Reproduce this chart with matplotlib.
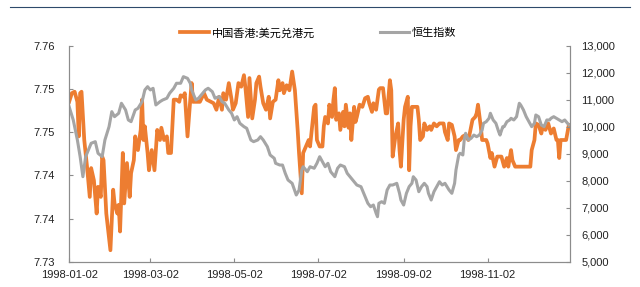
import matplotlib
matplotlib.use("Agg")
import matplotlib.pyplot as plt
from matplotlib.lines import Line2D
import pandas as pd

plt.rcParams['font.family'] = ['Liberation Sans', 'Noto Sans CJK SC', 'DejaVu Sans']

start = pd.Timestamp("1998-01-02")
end = pd.Timestamp("1999-01-01")

# days since 1998-01-02
hkd_day = [0, 2, 4, 6, 7, 8, 9, 11, 13, 15,
           16, 18, 20, 21, 23, 24, 25, 27, 30, 32,
           33, 35, 36, 37, 39, 40, 42, 44, 45, 47,
           48, 50, 52, 53, 54, 55, 57, 58, 60, 62,
           64, 66, 67, 69, 71, 72, 74, 76, 78, 80,
           81, 83, 84, 86, 88, 89, 90, 93, 95, 98,
           100, 103, 105, 107, 109, 111, 112, 114, 116, 118,
           119, 121, 123, 125, 127, 128, 130, 131, 133, 135,
           136, 138, 139, 141, 143, 145, 146, 148, 150, 152,
           153, 155, 156, 158, 160, 162, 164, 166, 167, 169,
           170, 172, 174, 175, 178, 179, 180, 182, 184, 185,
           186, 188, 189, 191, 192, 193, 194, 196, 197, 199,
           200, 201, 203, 204, 205, 207, 208, 209, 211, 213,
           215, 217, 218, 220, 221, 223, 225, 226, 228, 230,
           231, 233, 234, 235, 237, 239, 240, 241, 243, 244,
           246, 247, 248, 249, 251, 253, 254, 255, 257, 258,
           260, 262, 263, 265, 267, 269, 270, 272, 273, 275,
           276, 278, 280, 281, 283, 284, 286, 288, 290, 291,
           293, 295, 296, 297, 299, 300, 303, 304, 306, 307,
           309, 311, 313, 314, 316, 318, 319, 321, 322, 324,
           327, 329, 332, 335, 336, 338, 339, 341, 343, 344,
           346, 348, 350, 352, 354, 355, 356, 357, 360, 361,
           363]
hkd_rate = [7.7522, 7.7534, 7.7536, 7.7522, 7.7474, 7.7534, 7.7536, 7.7469, 7.7432, 7.7390,
            7.7430, 7.7413, 7.7367, 7.7404, 7.7390, 7.7446, 7.7441, 7.7367, 7.7316, 7.7400,
            7.7381, 7.7367, 7.7379, 7.7342, 7.7451, 7.7381, 7.7437, 7.7390, 7.7423, 7.7441,
            7.7474, 7.7455, 7.7483, 7.7525, 7.7469, 7.7488, 7.7451, 7.7427, 7.7455, 7.7427,
            7.7483, 7.7469, 7.7486, 7.7469, 7.7474, 7.7451, 7.7451, 7.7525, 7.7525, 7.7522,
            7.7531, 7.7529, 7.7534, 7.7474, 7.7525, 7.7548, 7.7522, 7.7522, 7.7522, 7.7534,
            7.7525, 7.7522, 7.7520, 7.7511, 7.7529, 7.7511, 7.7534, 7.7525, 7.7548, 7.7525,
            7.7511, 7.7520, 7.7548, 7.7543, 7.7559, 7.7543, 7.7501, 7.7555, 7.7499, 7.7525,
            7.7548, 7.7557, 7.7543, 7.7520, 7.7511, 7.7529, 7.7499, 7.7522, 7.7525, 7.7552,
            7.7538, 7.7548, 7.7534, 7.7545, 7.7538, 7.7564, 7.7538, 7.7483, 7.7451, 7.7395,
            7.7451, 7.7460, 7.7469, 7.7460, 7.7515, 7.7518, 7.7469, 7.7460, 7.7460, 7.7488,
            7.7501, 7.7492, 7.7518, 7.7501, 7.7525, 7.7541, 7.7497, 7.7506, 7.7483, 7.7508,
            7.7488, 7.7518, 7.7486, 7.7506, 7.7469, 7.7515, 7.7494, 7.7501, 7.7518, 7.7515,
            7.7527, 7.7529, 7.7520, 7.7508, 7.7520, 7.7511, 7.7539, 7.7541, 7.7541, 7.7506,
            7.7506, 7.7552, 7.7538, 7.7446, 7.7474, 7.7492, 7.7455, 7.7432, 7.7497, 7.7515,
            7.7529, 7.7427, 7.7488, 7.7515, 7.7515, 7.7515, 7.7497, 7.7469, 7.7474, 7.7492,
            7.7483, 7.7488, 7.7483, 7.7492, 7.7488, 7.7492, 7.7492, 7.7492, 7.7480, 7.7469,
            7.7492, 7.7490, 7.7474, 7.7455, 7.7469, 7.7469, 7.7474, 7.7476, 7.7469, 7.7478,
            7.7497, 7.7501, 7.7506, 7.7518, 7.7488, 7.7469, 7.7469, 7.7464, 7.7444, 7.7451,
            7.7432, 7.7446, 7.7446, 7.7446, 7.7432, 7.7444, 7.7432, 7.7455, 7.7441, 7.7432,
            7.7432, 7.7432, 7.7432, 7.7432, 7.7455, 7.7469, 7.7492, 7.7490, 7.7478, 7.7488,
            7.7483, 7.7492, 7.7478, 7.7485, 7.7469, 7.7469, 7.7444, 7.7469, 7.7469, 7.7469,
            7.7490]

hsi_day = [0, 3, 6, 8, 10, 12, 14, 16, 19, 21,
           24, 26, 29, 31, 33, 36, 38, 41, 43, 45,
           48, 50, 53, 55, 57, 59, 61, 63, 66, 68,
           71, 73, 76, 78, 81, 83, 86, 88, 89, 92,
           94, 97, 99, 101, 104, 106, 109, 111, 113, 116,
           118, 120, 122, 124, 127, 129, 132, 134, 137, 139,
           141, 144, 146, 149, 150, 153, 155, 157, 159, 162,
           165, 167, 169, 170, 173, 175, 178, 180, 182, 184,
           186, 188, 190, 193, 195, 197, 200, 202, 204, 207,
           209, 212, 214, 215, 217, 219, 221, 223, 224, 225,
           227, 229, 231, 233, 235, 238, 240, 241, 243, 245,
           247, 249, 250, 252, 254, 256, 258, 260, 261, 263,
           265, 267, 269, 271, 273, 276, 278, 280, 281, 283,
           284, 286, 287, 288, 290, 292, 294, 296, 298, 300,
           301, 303, 305, 306, 308, 310, 312, 313, 315, 316,
           318, 320, 321, 323, 325, 327, 328, 330, 332, 334,
           336, 338, 339, 341, 343, 345, 347, 349, 350, 352,
           354, 356, 358, 360, 361, 363]
hsi_index = [10741, 10248, 9507, 8889, 8148, 8889, 9137, 9385, 9445, 9015,
             8889, 9507, 10000, 10556, 10370, 10496, 10867, 10620, 10248, 10185,
             10619, 10680, 10926, 11359, 11481, 11359, 11420, 10804, 10926, 10989,
             11052, 11237, 11420, 11607, 11607, 11852, 11790, 11607, 11359, 10989,
             11052, 11237, 11359, 11422, 11296, 11052, 11115, 10930, 10867, 10619,
             10496, 10248, 10370, 10126, 10000, 9940, 9507, 9445, 9507, 9630,
             9507, 9259, 8952, 8830, 8644, 8580, 8580, 8274, 8026, 7903,
             7470, 7650, 8396, 8518, 8333, 8518, 8460, 8644, 8889, 8704,
             8518, 8644, 8333, 8148, 8460, 8581, 8518, 8274, 8148, 7963,
             7840, 7778, 7533, 7400, 7163, 7037, 7100, 6793, 6667, 7163,
             7222, 7163, 7655, 7840, 7840, 7903, 7533, 7285, 7100, 7533,
             7780, 7903, 8148, 8026, 7593, 7780, 7903, 7780, 7533, 7285,
             7593, 7780, 7963, 7840, 7903, 7655, 7533, 7903, 8396, 8952,
             9015, 8952, 9507, 9755, 9507, 9570, 9690, 9630, 9690, 9878,
             10126, 10185, 10310, 10496, 10248, 10126, 9815, 9690, 10000, 10000,
             10185, 10248, 10311, 10248, 10370, 10867, 10804, 10620, 10370, 10185,
             10000, 10126, 10433, 10370, 10060, 10000, 10248, 10248, 10311, 10370,
             10311, 10248, 10185, 10248, 10185, 10065]

x_ticks = ["1998-01-02", "1998-03-02", "1998-05-02", "1998-07-02", "1998-09-02", "1998-11-02"]
left_ticks = [7.730, 7.736, 7.742, 7.748, 7.754, 7.760]
right_ticks = [5000, 6000, 7000, 8000, 9000, 10000, 11000, 12000, 13000]

hkd_dates = start + pd.to_timedelta(hkd_day, unit="D")
hsi_dates = start + pd.to_timedelta(hsi_day, unit="D")

orange = "#ED7D31"
gray = "#A5A5A5"
axis_col = "#8C8C8C"

fig = plt.figure(figsize=(6.4, 2.87), dpi=100)
ax = fig.add_axes([0.108, 0.088, 0.783, 0.753])
ax2 = ax.twinx()

ax.plot(hkd_dates, hkd_rate, color=orange, lw=2.7, label="中国香港:美元兑港元", solid_joinstyle="round")
ax2.plot(hsi_dates, hsi_index, color=gray, lw=2.2, label="恒生指数", solid_joinstyle="round")

ax.set_xlim(start, end)
ax.set_ylim(7.730, 7.760)
ax2.set_ylim(5000, 13000)

ax.set_xticks(pd.to_datetime(x_ticks))
ax.set_xticklabels(x_ticks)
ax.set_yticks(left_ticks)
ax.set_yticklabels(["%.2f" % v for v in left_ticks])
ax2.set_yticks(right_ticks)
ax2.set_yticklabels(["{:,}".format(v) for v in right_ticks])

for a in (ax, ax2):
    a.spines["top"].set_visible(False)
    for s in ("left", "right", "bottom"):
        a.spines[s].set_color(axis_col)
        a.spines[s].set_linewidth(0.8)
    a.tick_params(direction="in", length=3, width=0.8, color=axis_col,
                  labelsize=8, labelcolor="#222222")
ax.tick_params(axis="y", pad=10)
ax2.tick_params(axis="y", pad=8)
ax.tick_params(axis="x", pad=6)

h1, l1 = ax.get_legend_handles_labels()
h2, l2 = ax2.get_legend_handles_labels()
fig.legend(h1 + h2, l1 + l2, loc="center", bbox_to_anchor=(0.497, 0.885), ncol=2,
           frameon=False, handlelength=2.6, handletextpad=0.3, columnspacing=5.8,
           prop={"family": ["Noto Sans CJK SC", "DejaVu Sans"], "size": 8})

# thin rule across the top
fig.add_artist(Line2D([0.016, 0.984], [0.975, 0.975], transform=fig.transFigure,
                      color="#2E4A6B", lw=0.8))

fig.savefig("out.png", dpi=100)
